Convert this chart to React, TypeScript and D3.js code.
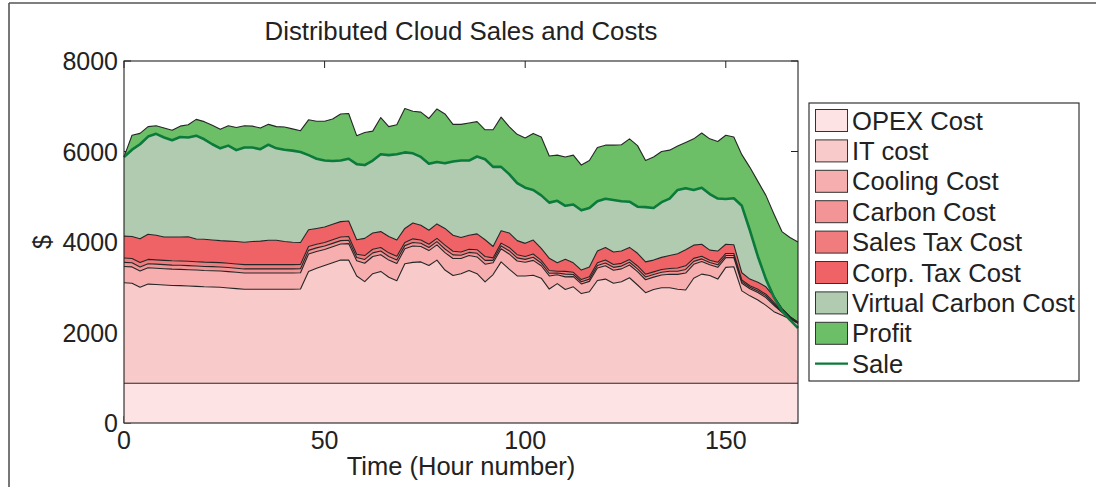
import React from 'react';
import * as d3 from 'd3';

// Hourly samples over one week (every second hour)
const hours = [0,2,4,6,8,10,12,14,16,18,20,22,24,26,28,30,32,34,36,38,40,42,44,46,48,50,52,54,56,58,60,62,64,66,68,70,72,74,76,78,80,82,84,86,88,90,92,94,96,98,100,102,104,106,108,110,112,114,116,118,120,122,124,126,128,130,132,134,136,138,140,142,144,146,148,150,152,154,156,158,160,162,164,166,168];

const opexCost = [880,880,880,880,880,880,880,880,880,880,880,880,880,880,880,880,880,880,880,880,880,880,880,880,880,880,880,880,880,880,880,880,880,880,880,880,880,880,880,880,880,880,880,880,880,880,880,880,880,880,880,880,880,880,880,880,880,880,880,880,880,880,880,880,880,880,880,880,880,880,880,880,880,880,880,880,880,880,880,880,880,880,880,880,880];

const itCost = [2220,2210,2120,2190,2180,2170,2160,2155,2148,2140,2130,2125,2119,2105,2090,2075,2075,2075,2075,2075,2075,2075,2080,
  2470,2540,2600,2660,2720,2722,2370,2245,2420,2470,2340,2265,2640,2670,2680,2600,2720,2500,2380,2420,2490,2420,2240,2400,2680,2520,2370,2370,2385,2320,2080,2200,2070,2130,1980,2020,2270,2300,2207,2240,2330,2170,2000,2070,2110,2110,2075,2060,2320,2410,2380,2300,2560,2574,2040,1930,1840,1720,1580,1500,1420,1320];

const coolingCost = [360,360,360,360,360,360,360,360,360,360,360,360,360,360,360,360,360,360,360,360,360,360,360,
  385,370,355,355,355,363,336,405,380,370,380,379,330,360,341,330,336,385,375,336,330,370,390,260,291,336,330,302,329,275,290,195,280,224,214,230,274,294,290,286,282,294,286,274,282,298,329,374,306,278,236,260,214,204,168,156,164,172,142,64,22,12];

const carbonCost = [90,90,90,90,90,90,90,90,90,90,90,90,90,90,90,90,90,90,90,90,90,90,90,
  80,80,75,75,75,75,72,85,80,80,80,80,70,80,72,70,72,80,80,72,70,80,85,55,62,72,70,64,70,60,60,40,60,48,48,50,58,63,63,61,60,63,61,58,60,64,71,80,66,59,50,56,46,44,36,33,35,37,31,13,4,3];

const salesTaxCost = [95,95,95,95,95,95,95,95,95,95,95,95,95,95,95,95,95,95,95,95,95,95,95,
  85,80,80,80,80,80,72,85,80,80,80,80,70,80,72,70,72,85,80,72,70,80,85,55,62,72,70,64,70,60,60,40,60,48,48,50,58,63,63,61,60,63,61,58,60,64,71,80,66,59,50,56,46,44,36,33,35,37,31,13,4,3];

const corpTaxCost = [485,485,525,555,545,515,525,530,544,500,505,495,486,490,495,495,510,520,540,540,510,495,485,
  370,350,340,340,340,345,320,380,360,350,360,360,310,350,325,310,320,370,355,320,310,350,370,250,275,320,310,290,310,265,270,185,270,210,210,220,260,280,277,272,268,280,272,260,268,284,314,356,292,264,224,248,204,194,160,148,156,164,136,60,20,12];

const virtualCarbonCost = [1750,1920,2090,2160,2240,2200,2140,2210,2193,2285,2210,2115,2040,2110,2020,2095,2080,2030,2110,2030,2030,2025,2000,
  1650,1540,1470,1400,1350,1375,1670,1620,1600,1710,1800,1896,1680,1540,1510,1470,1370,1440,1630,1700,1650,1710,1780,1760,1410,1300,1270,1230,1106,1170,1230,1370,1180,1290,1320,1300,1100,1075,1150,1100,1010,1030,1210,1150,1220,1260,1410,1360,1220,1250,1240,1160,1000,1026,1480,1080,570,170,0,0,0,0];

const profit = [0,320,240,220,180,210,220,240,280,360,390,420,420,440,500,480,470,470,450,480,500,480,470,
  780,830,870,930,1030,1000,630,720,650,810,630,650,970,930,990,1000,1170,1090,820,800,830,770,650,820,1100,1050,1080,1100,1250,1290,1030,1010,1080,1090,1000,1050,1190,1185,1210,1250,1390,1350,1030,1130,1120,1070,970,1010,1130,1210,1220,1260,1410,1354,1130,1390,1660,1850,1820,1700,1750,1770];

const sale = [5880,6040,6160,6330,6390,6310,6250,6320,6310,6350,6270,6160,6070,6130,6030,6090,6090,6050,6150,6070,6040,6020,5990,
  5920,5840,5800,5790,5800,5840,5720,5700,5800,5940,5920,5940,5980,5960,5880,5730,5770,5740,5780,5800,5800,5890,5830,5660,5660,5500,5300,5200,5150,5030,4870,4910,4800,4830,4700,4750,4900,4955,4930,4900,4890,4780,4770,4750,4880,4960,5150,5190,5150,5200,5060,4960,4950,4966,4800,4260,3680,3180,2780,2480,2280,2100];

const layerNames = ['OPEX Cost', 'IT cost', 'Cooling Cost', 'Carbon Cost', 'Sales Tax Cost', 'Corp. Tax Cost', 'Virtual Carbon Cost', 'Profit'];
const layerSeries = [opexCost, itCost, coolingCost, carbonCost, salesTaxCost, corpTaxCost, virtualCarbonCost, profit];
const layerColors = ['#fde3e3', '#f9caca', '#f6aeaf', '#f39597', '#f17c7e', '#ef6366', '#b1cbb1', '#6cbf67'];
const saleColor = '#0b7b3b';

const yTicks = [0, 2000, 4000, 6000, 8000];
const xTicks = [0, 50, 100, 150];

const FONT = '"Liberation Sans", Arial, Helvetica, sans-serif';

export default function App() {
  const W = 1096;
  const H = 487;
  const left = 124, right = 798, top = 61, bottom = 423;

  const x = d3.scaleLinear().domain([0, 168]).range([left, right]);
  const y = d3.scaleLinear().domain([0, 8000]).range([bottom, top]);

  const rows = hours.map((h, i) => {
    const r: any = { hour: h };
    layerNames.forEach((n, k) => { r[n] = layerSeries[k][i]; });
    return r;
  });
  const stacked = d3.stack<any>().keys(layerNames)(rows);

  const area = d3.area<any>()
    .x((d) => x(d.data.hour))
    .y0((d) => y(d[0]))
    .y1((d) => y(d[1]));
  const edge = d3.line<any>()
    .x((d) => x(d.data.hour))
    .y((d) => y(d[1]));
  const saleLine = d3.line<number>()
    .x((_, i) => x(hours[i]))
    .y((v) => y(v));

  const tickLen = 7;
  const legendX = 809, legendY = 103, legendW = 270, legendH = 278;
  const rowH = 30.4;
  const firstRow = 120.5;

  return (
    <svg width={W} height={H} style={{ position: 'absolute', left: 0, top: 0, background: '#fff' }}
      fontFamily={FONT}>
      {/* figure frame */}
      <line x1={9} y1={3} x2={W} y2={3} stroke="#555" strokeWidth={1.6} />
      <line x1={9} y1={3} x2={9} y2={H} stroke="#555" strokeWidth={1.6} />

      <text x={(left + right) / 2} y={40} textAnchor="middle" fontSize={25.8} fill="#222">
        Distributed Cloud Sales and Costs
      </text>

      {/* ticks sit under the data */}
      {yTicks.map((t) => (
        <g key={'yt' + t}>
          <line x1={left} x2={left + tickLen} y1={y(t)} y2={y(t)} stroke="#222" strokeWidth={1} />
          <line x1={right} x2={right - tickLen} y1={y(t)} y2={y(t)} stroke="#222" strokeWidth={1} />
        </g>
      ))}
      {xTicks.map((t) => (
        <g key={'xt' + t}>
          <line x1={x(t)} x2={x(t)} y1={bottom} y2={bottom - tickLen} stroke="#222" strokeWidth={1} />
          <line x1={x(t)} x2={x(t)} y1={top} y2={top + tickLen} stroke="#222" strokeWidth={1} />
        </g>
      ))}

      {stacked.map((s, k) => (
        <path key={'a' + k} d={area(s) || ''} fill={layerColors[k]} stroke="none" />
      ))}
      {stacked.map((s, k) => (
        <path key={'e' + k} d={edge(s) || ''} fill="none" stroke="#262626" strokeWidth={1.1} strokeLinejoin="round" />
      ))}
      <path d={saleLine(sale) || ''} fill="none" stroke={saleColor} strokeWidth={2.6} strokeLinejoin="round" />

      {/* axes box */}
      <rect x={left} y={top} width={right - left} height={bottom - top} fill="none" stroke="#222" strokeWidth={1.1} />

      {yTicks.map((t) => (
        <text key={'yl' + t} x={left - 6} y={y(t) + 9} textAnchor="end" fontSize={25} fill="#222">{t}</text>
      ))}
      {xTicks.map((t) => (
        <text key={'xl' + t} x={x(t)} y={449} textAnchor="middle" fontSize={25} fill="#222">{t}</text>
      ))}
      <text x={(left + right) / 2} y={475} textAnchor="middle" fontSize={25.5} fill="#222">Time (Hour number)</text>
      <text transform={`translate(51, ${y(4000)}) rotate(-90)`} textAnchor="middle" fontSize={25} fill="#222">$</text>

      {/* legend */}
      <rect x={legendX} y={legendY} width={legendW} height={legendH} fill="#fff" stroke="#222" strokeWidth={1.1} />
      {layerNames.map((n, k) => {
        const cy = firstRow + k * rowH;
        return (
          <g key={'lg' + k}>
            <rect x={815.5} y={cy - 11} width={32} height={22} fill={layerColors[k]} stroke="#333" strokeWidth={1} />
            <text x={852} y={cy + 9} fontSize={25.6} fill="#222">{n}</text>
          </g>
        );
      })}
      <line x1={815} x2={848} y1={firstRow + 8 * rowH} y2={firstRow + 8 * rowH} stroke={saleColor} strokeWidth={2.2} />
      <text x={852} y={firstRow + 8 * rowH + 9} fontSize={25.6} fill="#222">Sale</text>
    </svg>
  );
}
